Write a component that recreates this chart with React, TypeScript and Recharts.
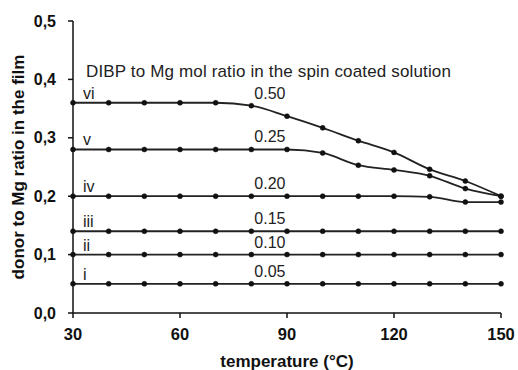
import { LineChart, Line, XAxis, YAxis, LabelList, Label } from 'recharts'

const temps = [30, 40, 50, 60, 70, 80, 90, 100, 110, 120, 130, 140, 150]

const seriesVi = [0.36, 0.36, 0.36, 0.36, 0.36, 0.355, 0.337, 0.317, 0.295, 0.275, 0.246, 0.226, 0.2]
const seriesV = [0.28, 0.28, 0.28, 0.28, 0.28, 0.28, 0.28, 0.274, 0.253, 0.245, 0.235, 0.213, 0.2]
const seriesIv = [0.2, 0.2, 0.2, 0.2, 0.2, 0.2, 0.2, 0.2, 0.2, 0.2, 0.199, 0.19, 0.19]
const seriesIii = [0.14, 0.14, 0.14, 0.14, 0.14, 0.14, 0.14, 0.14, 0.14, 0.14, 0.14, 0.14, 0.14]
const seriesIi = [0.1, 0.1, 0.1, 0.1, 0.1, 0.1, 0.1, 0.1, 0.1, 0.1, 0.1, 0.1, 0.1]
const seriesI = [0.05, 0.05, 0.05, 0.05, 0.05, 0.05, 0.05, 0.05, 0.05, 0.05, 0.05, 0.05, 0.05]

const seriesKeys = ['vi', 'v', 'iv', 'iii', 'ii', 'i']
const seriesValues = [seriesVi, seriesV, seriesIv, seriesIii, seriesIi, seriesI]
const ratioLabels = ['0.50', '0.25', '0.20', '0.15', '0.10', '0.05']

const xTicks = [30, 60, 90, 120, 150]
const yTicks = [0, 0.1, 0.2, 0.3, 0.4, 0.5]

const TITLE = 'DIBP to Mg mol ratio in the spin coated solution'

const data = temps.map((t, i) => {
  const row: any = { t }
  seriesKeys.forEach((k, j) => { row[k] = seriesValues[j][i] })
  return row
})

const FONT = '"Liberation Sans", Arial, sans-serif'

function makeLabel(roman: string, ratio: string) {
  return (props: any) => {
    const { x, y, index } = props
    if (index === 0) {
      return <text x={x + 10} y={y - 4} fontSize={16} fontFamily={FONT} fill="#222">{roman}</text>
    }
    if (index === 5) {
      return <text x={x + 3} y={y - 7} fontSize={16} fontFamily={FONT} fill="#222">{ratio}</text>
    }
    return null
  }
}

export default function App() {
  return (
    <div style={{ position: 'absolute', left: 0, top: 0, width: 518, height: 370, background: '#fff' }}>
      <style>{'body{margin:0}'}</style>
      <LineChart width={518} height={370} data={data} margin={{ top: 21, right: 17, bottom: 0, left: 0 }}>
        <XAxis
          dataKey="t"
          type="number"
          domain={[30, 150]}
          ticks={xTicks}
          height={57}
          stroke="#111"
          strokeWidth={1.5}
          tickSize={5}
          tickMargin={10}
          tick={{ fill: '#111', fontSize: 16.5, fontWeight: 'bold', fontFamily: FONT }}
        >
          <Label value="temperature (°C)" position="insideBottom" offset={3}
            style={{ fill: '#111', fontSize: 17, fontWeight: 'bold', fontFamily: FONT }} />
        </XAxis>
        <YAxis
          type="number"
          domain={[0, 0.5]}
          ticks={yTicks}
          width={73}
          stroke="#111"
          strokeWidth={1.5}
          tickSize={5}
          tickMargin={12}
          tickFormatter={(v) => v.toFixed(1).replace('.', ',')}
          tick={{ fill: '#111', fontSize: 16, fontWeight: 'bold', fontFamily: FONT }}
        >
          <Label value="donor to Mg ratio in the film" angle={-90} position="insideLeft" offset={18}
            style={{ textAnchor: 'middle', fill: '#111', fontSize: 17, fontWeight: 'bold', fontFamily: FONT }} />
        </YAxis>
        <text x={86} y={77} fontSize={17} letterSpacing={0.15} fontFamily={FONT} fill="#222">{TITLE}</text>
        {seriesKeys.map((k, j) => (
          <Line
            key={k}
            dataKey={k}
            type="monotone"
            stroke="#222"
            strokeWidth={1.8}
            dot={{ r: 2.5, fill: '#111', stroke: '#111', strokeWidth: 0.5 }}
            isAnimationActive={false}
          >
            <LabelList dataKey={k} content={makeLabel(k, ratioLabels[j])} />
          </Line>
        ))}
      </LineChart>
    </div>
  )
}
